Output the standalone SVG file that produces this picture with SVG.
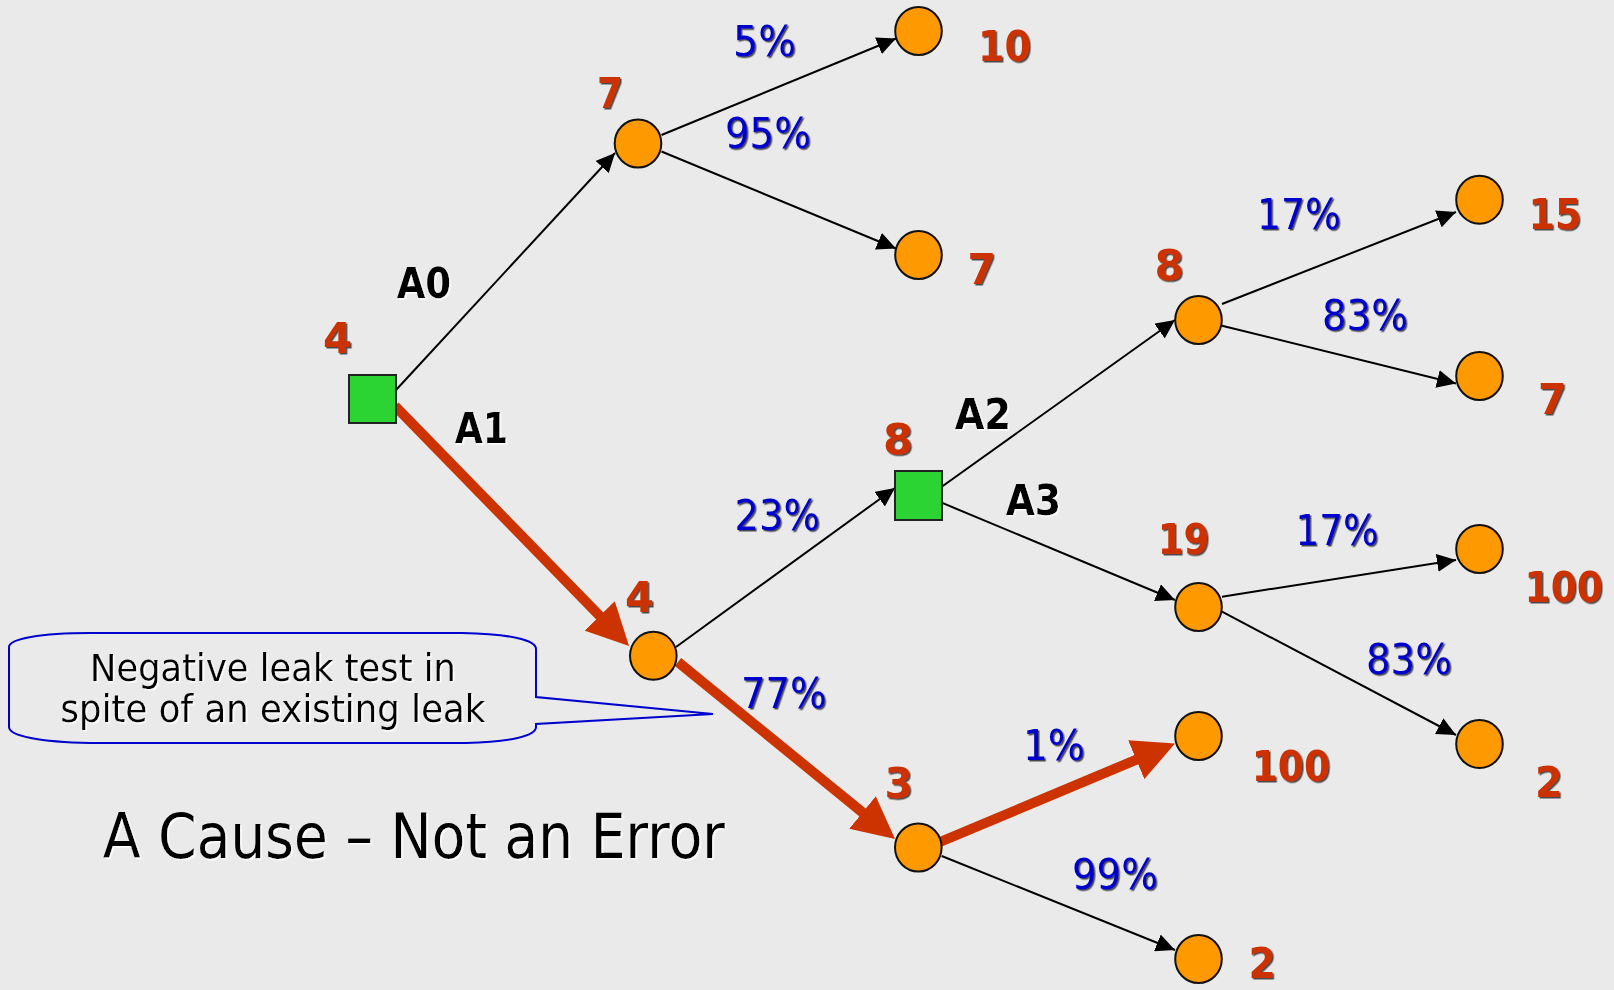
<svg xmlns="http://www.w3.org/2000/svg" width="1614" height="990" viewBox="0 0 1614 990">
  <defs>
    <style>
      .bg { fill: #EAEAEA; }
      .chance { fill: #FF9900; stroke: #111; stroke-width: 2; }
      .decision { fill: #2BD433; stroke: #222; stroke-width: 2; }
      .edge { fill: none; stroke: #000; stroke-width: 2; marker-end: url(#tip); }
      .path { fill: none; stroke: #CC3300; stroke-width: 10; marker-end: url(#tipRed); }
      .val { font-family: "DejaVu Sans", "Liberation Sans", sans-serif; font-weight: bold; font-size: 42px; fill: #CC3300; }
      .act { font-family: "DejaVu Sans", "Liberation Sans", sans-serif; font-weight: bold; font-size: 42px; fill: #000; }
      .prob { font-family: "DejaVu Sans", "Liberation Sans", sans-serif; font-size: 42px; fill: #0000CC; }
      .note { font-family: "DejaVu Sans", "Liberation Sans", sans-serif; font-size: 37px; fill: #000; }
      .title { font-family: "DejaVu Sans", "Liberation Sans", sans-serif; font-size: 63px; fill: #000; }
      .callout { fill: none; stroke: #0000CC; stroke-width: 2; }
    </style>
    <marker id="tip" markerUnits="userSpaceOnUse" viewBox="0 0 19 18" markerWidth="19" markerHeight="18" refX="19" refY="9" orient="auto">
      <path d="M0,0 L19,9 L0,18 Z" fill="#000"/>
    </marker>
    <marker id="tipRed" markerUnits="userSpaceOnUse" viewBox="0 0 42 42" markerWidth="42" markerHeight="42" refX="12" refY="21" orient="auto">
      <path d="M0,0 L42,21 L0,42 Z" fill="#CC3300"/>
    </marker>
    <filter id="darkShadow" x="-10%" y="-10%" width="130%" height="130%">
      <feDropShadow dx="1.5" dy="1.5" stdDeviation="0.4" flood-color="#222" flood-opacity="0.8"/>
    </filter>
    <filter id="lightShadow" x="-10%" y="-10%" width="130%" height="130%">
      <feDropShadow dx="1.5" dy="1.5" stdDeviation="0.3" flood-color="#fff" flood-opacity="1"/>
    </filter>
  </defs>

  <rect class="bg" x="0" y="0" width="1614" height="990"/>

  <!-- connectors -->
  <g id="connectors">
    <line class="edge" x1="396" y1="390" x2="615" y2="153"/>
    <line class="edge" x1="661.5" y1="135" x2="896" y2="38.5"/>
    <line class="edge" x1="661.5" y1="151.5" x2="896" y2="248.5"/>
    <line class="edge" x1="676" y1="647" x2="895" y2="488"/>
    <line class="edge" x1="941.7" y1="486.7" x2="1175" y2="320"/>
    <line class="edge" x1="941.7" y1="502.7" x2="1175" y2="600"/>
    <line class="edge" x1="1222" y1="304" x2="1456" y2="212"/>
    <line class="edge" x1="1222" y1="325.7" x2="1456" y2="383.5"/>
    <line class="edge" x1="1222" y1="596.7" x2="1456" y2="560"/>
    <line class="edge" x1="1222" y1="611.7" x2="1456" y2="735"/>
    <line class="edge" x1="941.7" y1="856" x2="1175" y2="950"/>
    <!-- highlighted path -->
    <line class="path" x1="395" y1="406" x2="608.1" y2="624.5"/>
    <line class="path" x1="678" y1="662" x2="871.8" y2="820"/>
    <line class="path" x1="940" y1="842" x2="1147.3" y2="755.1"/>
  </g>

  <!-- nodes -->
  <g id="root"><rect class="decision" x="349" y="375" width="47" height="48"/></g>
  <g id="c7"><ellipse class="chance" cx="638" cy="143.5" rx="23.3" ry="24"/></g>
  <g id="leaf10"><ellipse class="chance" cx="918.5" cy="31" rx="23.3" ry="24"/></g>
  <g id="leaf7a"><ellipse class="chance" cx="918.5" cy="255" rx="23.3" ry="24"/></g>
  <g id="c4"><ellipse class="chance" cx="653.3" cy="655.8" rx="23.3" ry="24"/></g>
  <g id="d8"><rect class="decision" x="895" y="471" width="47" height="49"/></g>
  <g id="c8"><ellipse class="chance" cx="1198.5" cy="320" rx="23.3" ry="24"/></g>
  <g id="leaf15"><ellipse class="chance" cx="1479.5" cy="199.7" rx="23.3" ry="24"/></g>
  <g id="leaf7b"><ellipse class="chance" cx="1479.5" cy="376" rx="23.3" ry="24"/></g>
  <g id="c19"><ellipse class="chance" cx="1198.5" cy="607" rx="23.3" ry="24"/></g>
  <g id="leaf100a"><ellipse class="chance" cx="1479.5" cy="549" rx="23.3" ry="24"/></g>
  <g id="leaf2a"><ellipse class="chance" cx="1479.5" cy="744" rx="23.3" ry="24"/></g>
  <g id="c3"><ellipse class="chance" cx="918.3" cy="847.5" rx="23.3" ry="24"/></g>
  <g id="leaf100b"><ellipse class="chance" cx="1198.5" cy="736" rx="23.3" ry="24"/></g>
  <g id="leaf2b"><ellipse class="chance" cx="1198.5" cy="959" rx="23.3" ry="24"/></g>

  <!-- expected values -->
  <g id="values" filter="url(#darkShadow)">
    <text class="val" x="323" y="353" textLength="29" lengthAdjust="spacingAndGlyphs">4</text>
    <text class="val" x="597" y="108" textLength="26" lengthAdjust="spacingAndGlyphs">7</text>
    <text class="val" x="978" y="61" textLength="53" lengthAdjust="spacingAndGlyphs">10</text>
    <text class="val" x="967.5" y="284" textLength="28.5" lengthAdjust="spacingAndGlyphs">7</text>
    <text class="val" x="883" y="454" textLength="30" lengthAdjust="spacingAndGlyphs">8</text>
    <text class="val" x="625" y="612" textLength="29" lengthAdjust="spacingAndGlyphs">4</text>
    <text class="val" x="884.5" y="798" textLength="28.5" lengthAdjust="spacingAndGlyphs">3</text>
    <text class="val" x="1154.6" y="280" textLength="29.4" lengthAdjust="spacingAndGlyphs">8</text>
    <text class="val" x="1528.5" y="229" textLength="53" lengthAdjust="spacingAndGlyphs">15</text>
    <text class="val" x="1538" y="414" textLength="28.6" lengthAdjust="spacingAndGlyphs">7</text>
    <text class="val" x="1157.7" y="554" textLength="51.8" lengthAdjust="spacingAndGlyphs">19</text>
    <text class="val" x="1524.6" y="602" textLength="78.4" lengthAdjust="spacingAndGlyphs">100</text>
    <text class="val" x="1535" y="797" textLength="27.7" lengthAdjust="spacingAndGlyphs">2</text>
    <text class="val" x="1251.7" y="781" textLength="78.3" lengthAdjust="spacingAndGlyphs">100</text>
    <text class="val" x="1248.6" y="978" textLength="27.4" lengthAdjust="spacingAndGlyphs">2</text>
  </g>

  <!-- probabilities -->
  <g id="probabilities" filter="url(#darkShadow)">
    <text class="prob" x="733" y="56" textLength="63" lengthAdjust="spacingAndGlyphs">5%</text>
    <text class="prob" x="725" y="148" textLength="86" lengthAdjust="spacingAndGlyphs">95%</text>
    <text class="prob" x="734.6" y="530" textLength="85.4" lengthAdjust="spacingAndGlyphs">23%</text>
    <text class="prob" x="741" y="708" textLength="85.6" lengthAdjust="spacingAndGlyphs">77%</text>
    <text class="prob" x="1257" y="229" textLength="84" lengthAdjust="spacingAndGlyphs">17%</text>
    <text class="prob" x="1322" y="330" textLength="86" lengthAdjust="spacingAndGlyphs">83%</text>
    <text class="prob" x="1295.6" y="545" textLength="83" lengthAdjust="spacingAndGlyphs">17%</text>
    <text class="prob" x="1366" y="674" textLength="86" lengthAdjust="spacingAndGlyphs">83%</text>
    <text class="prob" x="1023" y="760" textLength="62" lengthAdjust="spacingAndGlyphs">1%</text>
    <text class="prob" x="1072" y="889" textLength="86" lengthAdjust="spacingAndGlyphs">99%</text>
  </g>

  <!-- actions -->
  <g id="actions" filter="url(#lightShadow)">
    <text class="act" x="397" y="298" textLength="54" lengthAdjust="spacingAndGlyphs">A0</text>
    <text class="act" x="455" y="443" textLength="53" lengthAdjust="spacingAndGlyphs">A1</text>
    <text class="act" x="955" y="429" textLength="56" lengthAdjust="spacingAndGlyphs">A2</text>
    <text class="act" x="1006" y="515" textLength="55" lengthAdjust="spacingAndGlyphs">A3</text>
  </g>

  <!-- callout -->
  <g id="callout">
    <path class="callout" d="M90,633 L462,633 C510,634 536,640 536,649 L536,697 L713,714 L536,724 L536,727 C536,736 510,742 466,743 L90,743 C40,742 9,736 9,727 L9,647 C9,639 40,633 90,633 Z"/>
    <g filter="url(#lightShadow)">
      <text class="note" x="273" y="681" text-anchor="middle" textLength="366" lengthAdjust="spacingAndGlyphs">Negative leak test in</text>
      <text class="note" x="273" y="722" text-anchor="middle" textLength="425" lengthAdjust="spacingAndGlyphs">spite of an existing leak</text>
    </g>
  </g>

  <g id="title" filter="url(#lightShadow)">
    <text class="title" x="103" y="858" textLength="622" lengthAdjust="spacingAndGlyphs">A Cause – Not an Error</text>
  </g>
</svg>
